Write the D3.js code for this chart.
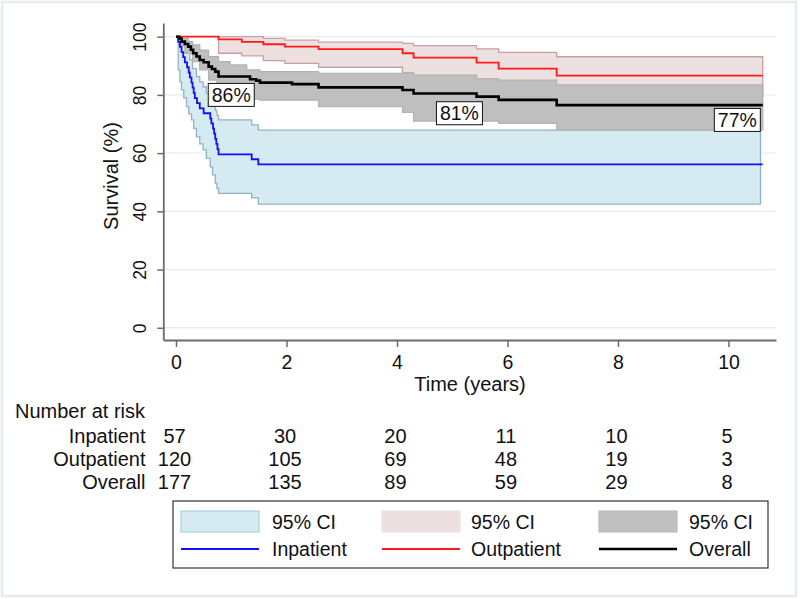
<!DOCTYPE html>
<html>
<head>
<meta charset="utf-8">
<script src="https://cdn.jsdelivr.net/npm/d3@7/dist/d3.min.js"></script>
<style>
  html, body { margin: 0; padding: 0; background: #ffffff; }
  svg { display: block; font-family: "Liberation Sans", Arial, Helvetica, sans-serif; }
</style>
</head>
<body>
<svg id="chart" width="800" height="599"></svg>
<script>
// ---------------- data ----------------
// Kaplan–Meier step points: [time (years), survival %]
const inpatient = [[0,100],[0.04,98.2],[0.07,96.5],[0.1,94.7],[0.13,93],[0.16,91.2],[0.2,89.5],[0.23,87.7],[0.25,86],[0.28,84.2],[0.3,82.5],[0.32,80.7],[0.34,78.9],[0.38,77.2],[0.43,75.4],[0.5,73.7],[0.62,71.9],[0.64,70.2],[0.67,68.4],[0.69,66.7],[0.71,64.9],[0.73,63.2],[0.75,61.4],[0.77,59.6],[1.37,57.9],[1.49,56.1]];
const inpatientUpper = [[0.04,99.8],[0.1,99],[0.16,96.6],[0.2,94.3],[0.25,92],[0.3,89],[0.37,86.3],[0.43,84.5],[0.49,82.8],[0.55,80.5],[0.62,78.2],[0.67,76.5],[0.71,74.8],[0.74,73],[0.77,71.4],[1.37,69.7],[1.49,67.9]];
const inpatientLower = [[0.04,88.6],[0.07,84.5],[0.1,81.7],[0.14,79],[0.19,76],[0.23,73.5],[0.28,71.4],[0.32,68.5],[0.37,65.6],[0.43,63.2],[0.49,61.1],[0.55,58.2],[0.62,55.3],[0.66,52.5],[0.71,49.6],[0.74,47.9],[0.77,46.2],[1.37,44.6],[1.49,42.5]];

const outpatient = [[0,100],[0.77,99.1],[1.19,98.2],[1.58,97.4],[1.97,96.6],[2.58,95.7],[4.1,94.3],[4.3,92.8],[5.44,91.1],[5.84,89.0],[6.89,86.6]];
const outpatientUpper = [[0.77,100],[1.58,99.4],[1.97,98.8],[2.58,98.1],[4.1,97.7],[4.3,96.9],[5.44,95.8],[5.84,94.6],[6.89,93.1]];
const outpatientLower = [[0.77,94.3],[1.19,93.4],[1.58,91.8],[1.97,90.8],[2.58,89.5],[4.1,87.6],[4.3,86.4],[5.44,84.5],[5.84,82.2],[6.89,79.3]];

const overall = [[0,100],[0.06,99.4],[0.1,98.3],[0.16,97.5],[0.22,96.6],[0.27,95.5],[0.31,94.3],[0.37,93.2],[0.43,92],[0.5,91.2],[0.59,89.7],[0.65,88.9],[0.71,88],[0.77,86.3],[1.34,85.4],[1.45,84.9],[1.52,84.2],[2.1,83.7],[2.58,82.6],[4.1,81.7],[4.3,80.5],[5.44,79.4],[5.84,78.3],[6.89,76.5]];
const overallUpper = [[0.04,100],[0.1,99.4],[0.22,98.3],[0.3,97.2],[0.43,95.4],[0.59,93.1],[0.77,91.4],[0.98,90.3],[1.28,88.6],[1.52,88],[2.58,87.4],[4.3,86.8],[5.44,85.6],[5.84,85.1],[6.89,83.4]];
const overallLower = [[0.04,98.5],[0.08,97],[0.16,94.3],[0.3,91.4],[0.43,88.6],[0.59,85.1],[0.74,81.7],[0.8,79.4],[1.0,78.6],[1.52,78.2],[2.58,76.0],[4.1,74.0],[4.3,71.0],[5.84,70.2],[6.89,67.9]];

const followUpEnd = 10.62;   // last observed time (years)

const xTicks = [0,2,4,6,8,10];
const yTicks = [0,20,40,60,80,100];

// Number at risk table
const riskGroups = ["Inpatient","Outpatient","Overall"];
const riskInpatient  = [57,30,20,11,10,5];
const riskOutpatient = [120,105,69,48,19,3];
const riskOverall    = [177,135,89,59,29,8];

// Boxed survival annotations on the overall curve
const annoText = ["86%","81%","77%"];
const annoTime = [1.0,5.13,10.16];
const annoPos  = [80.0,73.7,71.4];

// Legend entries
const legendFills = ["95% CI","95% CI","95% CI"];
const legendLines = ["Inpatient","Outpatient","Overall"];

// ---------------- drawing ----------------
const svg = d3.select("#chart");
const FONT = 19.5;
const RISKFONT = 20;

// outer faint frame
svg.append("rect").attr("x",2).attr("y",2).attr("width",794).attr("height",594)
  .attr("fill","#ffffff").attr("stroke","#e7edea").attr("stroke-width",2.5);

const x = d3.scaleLinear().domain([-0.23,10.86]).range([163.3,776]);
const y = d3.scaleLinear().domain([-4.2,104.7]).range([340,23]);

// gridlines
svg.append("g").selectAll("line").data(yTicks).join("line")
  .attr("x1",x.range()[0]).attr("x2",x.range()[1])
  .attr("y1",d=>y(d)).attr("y2",d=>y(d))
  .attr("stroke","#e3eef1").attr("stroke-width",1.3);

function stepValue(arr, t){
  let v = null;
  for (const p of arr){ if (p[0] <= t + 1e-9) v = p[1]; else break; }
  return v;
}
function bandData(up, lo, tEnd){
  const times = Array.from(new Set(up.map(d=>d[0]).concat(lo.map(d=>d[0])))).sort((a,b)=>a-b);
  const out = times.map(t=>({t, u: stepValue(up,t), l: stepValue(lo,t)}));
  const last = out[out.length-1];
  out.push({t: tEnd, u: last.u, l: last.l});
  return out;
}
const area = d3.area().curve(d3.curveStepAfter)
  .x(d=>x(d.t)).y0(d=>y(d.l)).y1(d=>y(d.u));
const line = d3.line().curve(d3.curveStepAfter).x(d=>x(d[0])).y(d=>y(d[1]));
const withEnd = arr => arr.concat([[followUpEnd, arr[arr.length-1][1]]]);

const bands = [
  {up: inpatientUpper, lo: inpatientLower, fill:"#d5eaf1", stroke:"#93b3c3", end: 10.58},
  {up: outpatientUpper, lo: outpatientLower, fill:"#ede0e1", stroke:"#c9a0a3", end: followUpEnd},
  {up: overallUpper, lo: overallLower, fill:"#bfbfbf", stroke:"#b3b3b3", end: followUpEnd}
];
svg.append("g").selectAll("path").data(bands).join("path")
  .attr("d", b=>area(bandData(b.up,b.lo,b.end)))
  .attr("fill", b=>b.fill).attr("stroke", b=>b.stroke).attr("stroke-width",1.3);

const curves = [
  {data: inpatient, color:"#1010ff", w:1.8},
  {data: outpatient, color:"#ff1a1a", w:1.8},
  {data: overall, color:"#000000", w:2.6}
];
svg.append("g").selectAll("path").data(curves).join("path")
  .attr("d", c=>line(withEnd(c.data)))
  .attr("fill","none").attr("stroke", c=>c.color).attr("stroke-width", c=>c.w);

// annotations
const ann = svg.append("g").selectAll("g").data(annoText).join("g")
  .attr("transform",(d,i)=>`translate(${x(annoTime[i])},${y(annoPos[i])})`);
ann.append("rect").attr("x",-23).attr("y",-11.5).attr("width",46).attr("height",23)
  .attr("fill","#ffffff").attr("stroke","#111").attr("stroke-width",1);
ann.append("text").attr("text-anchor","middle").attr("dy","0.36em")
  .attr("font-size",FONT).attr("fill","#111").text(d=>d);

// axes
const axisColor = "#6b6b6b";
const gy = svg.append("g").attr("transform",`translate(${x.range()[0]},0)`)
  .call(d3.axisLeft(y).tickValues(yTicks).tickSize(6).tickSizeOuter(0));
const gx = svg.append("g").attr("transform",`translate(0,${y.range()[0]})`)
  .call(d3.axisBottom(x).tickValues(xTicks).tickSize(7).tickSizeOuter(0));
[gx,gy].forEach(g=>{
  g.select(".domain").attr("stroke",axisColor).attr("stroke-width",1.8);
  g.selectAll(".tick line").attr("stroke",axisColor).attr("stroke-width",1.5);
  g.selectAll("text").attr("font-family","Liberation Sans, Arial, sans-serif").attr("fill","#111");
});
gy.selectAll(".tick text").attr("font-size",17.5).attr("transform","rotate(-90)")
  .attr("x",0).attr("y",-17).attr("dy",0).attr("text-anchor","middle");
gx.selectAll(".tick text").attr("font-size",FONT).attr("y",15).attr("dy","0.71em");

// axis titles
svg.append("text").attr("transform","translate(118,176) rotate(-90)")
  .attr("text-anchor","middle").attr("font-size",20).attr("fill","#111").text("Survival (%)");
svg.append("text").attr("x",470).attr("y",391)
  .attr("text-anchor","middle").attr("font-size",20).attr("fill","#111").text("Time (years)");

// number at risk
svg.append("text").attr("x",15).attr("y",418).attr("font-size",RISKFONT).attr("fill","#111").text("Number at risk");
const riskRows = [riskInpatient, riskOutpatient, riskOverall];
const rowY = [443,466,489];
riskRows.forEach((row,i)=>{
  svg.append("text").attr("x",145.5).attr("y",rowY[i]).attr("text-anchor","end")
    .attr("font-size",RISKFONT).attr("fill","#111").text(riskGroups[i]);
  svg.append("g").selectAll("text").data(row).join("text")
    .attr("x",(d,j)=>x(xTicks[j]) - 1.5).attr("y",rowY[i]).attr("text-anchor","middle")
    .attr("font-size",RISKFONT).attr("fill","#111").text(d=>d);
});

// legend
const lg = svg.append("g");
lg.append("rect").attr("x",173).attr("y",501).attr("width",595).attr("height",67)
  .attr("fill","#ffffff").attr("stroke","#333").attr("stroke-width",1.2);
const colSwatch = [181,382,599];
const colText = [272,471,689];
bands.forEach((b,i)=>{
  lg.append("rect").attr("x",colSwatch[i]).attr("y",511).attr("width",78).attr("height",21)
    .attr("fill",b.fill).attr("stroke", i===0 ? "#a9cfdd" : b.fill).attr("stroke-width",1.2);
  lg.append("text").attr("x",colText[i]).attr("y",528.5).attr("font-size",FONT).attr("fill","#111").text(legendFills[i]);
});
curves.forEach((c,i)=>{
  lg.append("line").attr("x1",colSwatch[i]).attr("x2",colSwatch[i]+78)
    .attr("y1",549).attr("y2",549).attr("stroke",c.color).attr("stroke-width",c.w>2?2.4:1.8);
  lg.append("text").attr("x",colText[i]).attr("y",556).attr("font-size",FONT).attr("fill","#111").text(legendLines[i]);
});
</script>
</body>
</html>
